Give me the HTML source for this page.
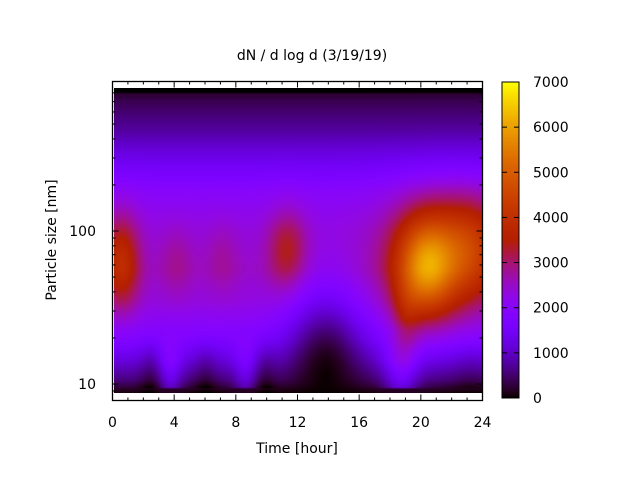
<!DOCTYPE html>
<html><head><meta charset="utf-8"><style>
body{margin:0;background:#fff;width:640px;height:480px;overflow:hidden}
svg{position:absolute;left:0;top:0}
canvas{position:absolute}
text{font-family:"DejaVu Sans","Liberation Sans",sans-serif;font-size:14px;fill:#000}
</style></head><body>
<canvas id="c" width="368" height="305" style="left:114px;top:88px"></canvas>
<canvas id="cb" width="17" height="316" style="left:502px;top:82px"></canvas>
<svg width="640" height="480" id="s">
<text x="312" y="60" text-anchor="middle">dN / d log d (3/19/19)</text>
<text x="297" y="453" text-anchor="middle">Time [hour]</text>
<text transform="translate(56,240) rotate(-90)" text-anchor="middle">Particle size [nm]</text>
<g id="ax"></g>
</svg>
<script>
function cm(v){var x=Math.max(0,Math.min(1,v/7000));var r=Math.sqrt(x),g=x*x*x,b=Math.sin(2*Math.PI*x);if(b<0)b=0;return [r*255|0,g*255|0,b*255|0];}
function G(x,y,cx,cy,sx,sy){var dx=(x-cx)/sx,dy=(y-cy)/sy;return Math.exp(-0.5*(dx*dx+dy*dy));}
function base(y){var P=[[88,0],[92,0],[93,200],[100,350],[130,750],[160,1350],[190,1950],[210,2150],[230,2300],[270,2450],[300,2300],[320,2050],[340,1700],[360,1150],[380,550],[386,300],[389,150],[393,50]];
for(var i=0;i<P.length-1;i++){if(y<=P[i+1][0]){var t=(y-P[i][0])/(P[i+1][0]-P[i][0]);return P[i][1]+t*(P[i+1][1]-P[i][1]);}}return 50;}
function bot(x){return 700*G(x,0,170,0,8,1)+600*G(x,0,245,0,8,1)+900*G(x,0,400,0,12,1)-300*G(x,0,150,0,8,1)-300*G(x,0,205,0,8,1)-300*G(x,0,265,0,8,1)-200*G(x,0,470,0,15,1);}
function f(X,Y){var v=base(Y);
v+=1500*G(X,Y,121,262,13,34);v+=400*G(X,Y,176,262,12,25);v+=350*G(X,Y,222,258,12,25);v+=1100*G(X,Y,287,250,14,28);
v+=2300*G(X,Y,425,268,20,35);v+=1500*G(X,Y,440,255,38,42);v+=1100*G(X,Y,472,245,22,35);v+=700*G(X,Y,405,320,10,25);
var w=Math.max(0,Math.min(1,(Y-330)/30));v+=bot(X)*w*(Y<388?1:0.3);
v*=(1-0.97*G(X,Y,325,375,28,55));
if(Y>=389)v=Math.min(v,150);
return v;}
var c=document.getElementById('c').getContext('2d'),im=c.createImageData(368,305);
for(var j=0;j<305;j++)for(var i=0;i<368;i++){var k=cm(f(i+114,j+88)),p=(j*368+i)*4;im.data[p]=k[0];im.data[p+1]=k[1];im.data[p+2]=k[2];im.data[p+3]=255;}
c.putImageData(im,0,0);
var cb=document.getElementById('cb').getContext('2d'),im2=cb.createImageData(17,316);
for(var j=0;j<316;j++){var k=cm(7000*(1-j/315));for(var i=0;i<17;i++){var p=(j*17+i)*4;im2.data[p]=k[0];im2.data[p+1]=k[1];im2.data[p+2]=k[2];im2.data[p+3]=255;}}
cb.putImageData(im2,0,0);
var s='',L=112.5,R=482.5,T=81.5,B=400.5;
s+='<rect x="'+L+'" y="'+T+'" width="'+(R-L)+'" height="'+(B-T)+'" fill="none" stroke="#000" stroke-width="1.3"/>';
for(var h=0;h<=24;h++){var x=L+h*(R-L)/24,len=h%4==0?6:3;s+='<line x1="'+x+'" y1="'+B+'" x2="'+x+'" y2="'+(B-len)+'" stroke="#000"/><line x1="'+x+'" y1="'+T+'" x2="'+x+'" y2="'+(T+len)+'" stroke="#000"/>';
if(h%4==0)s+='<text x="'+x+'" y="427" text-anchor="middle">'+h+'</text>';}
function yy(v){return 231-153*(Math.log10(v)-2);}
var vals=[9,10,20,30,40,50,60,70,80,90,100,200,300,400,500,600,700,800];
vals.forEach(function(v){var y=yy(v);var len=(v==10||v==100)?6:3;s+='<line x1="'+L+'" y1="'+y+'" x2="'+(L+len)+'" y2="'+y+'" stroke="#000"/><line x1="'+R+'" y1="'+y+'" x2="'+(R-len)+'" y2="'+y+'" stroke="#000"/>';});
s+='<text x="96" y="236" text-anchor="end">100</text><text x="96" y="389" text-anchor="end">10</text>';
s+='<rect x="502" y="82" width="17" height="316" fill="none" stroke="#000"/>';
for(var n=0;n<=7;n++){var y=398-n*316/7;s+='<line x1="502" y1="'+y+'" x2="507" y2="'+y+'" stroke="#000"/><line x1="519" y1="'+y+'" x2="514" y2="'+y+'" stroke="#000"/><text x="533" y="'+(y+5)+'">'+(n*1000)+'</text>';}
document.getElementById('ax').innerHTML=s;
</script>
</body></html>
